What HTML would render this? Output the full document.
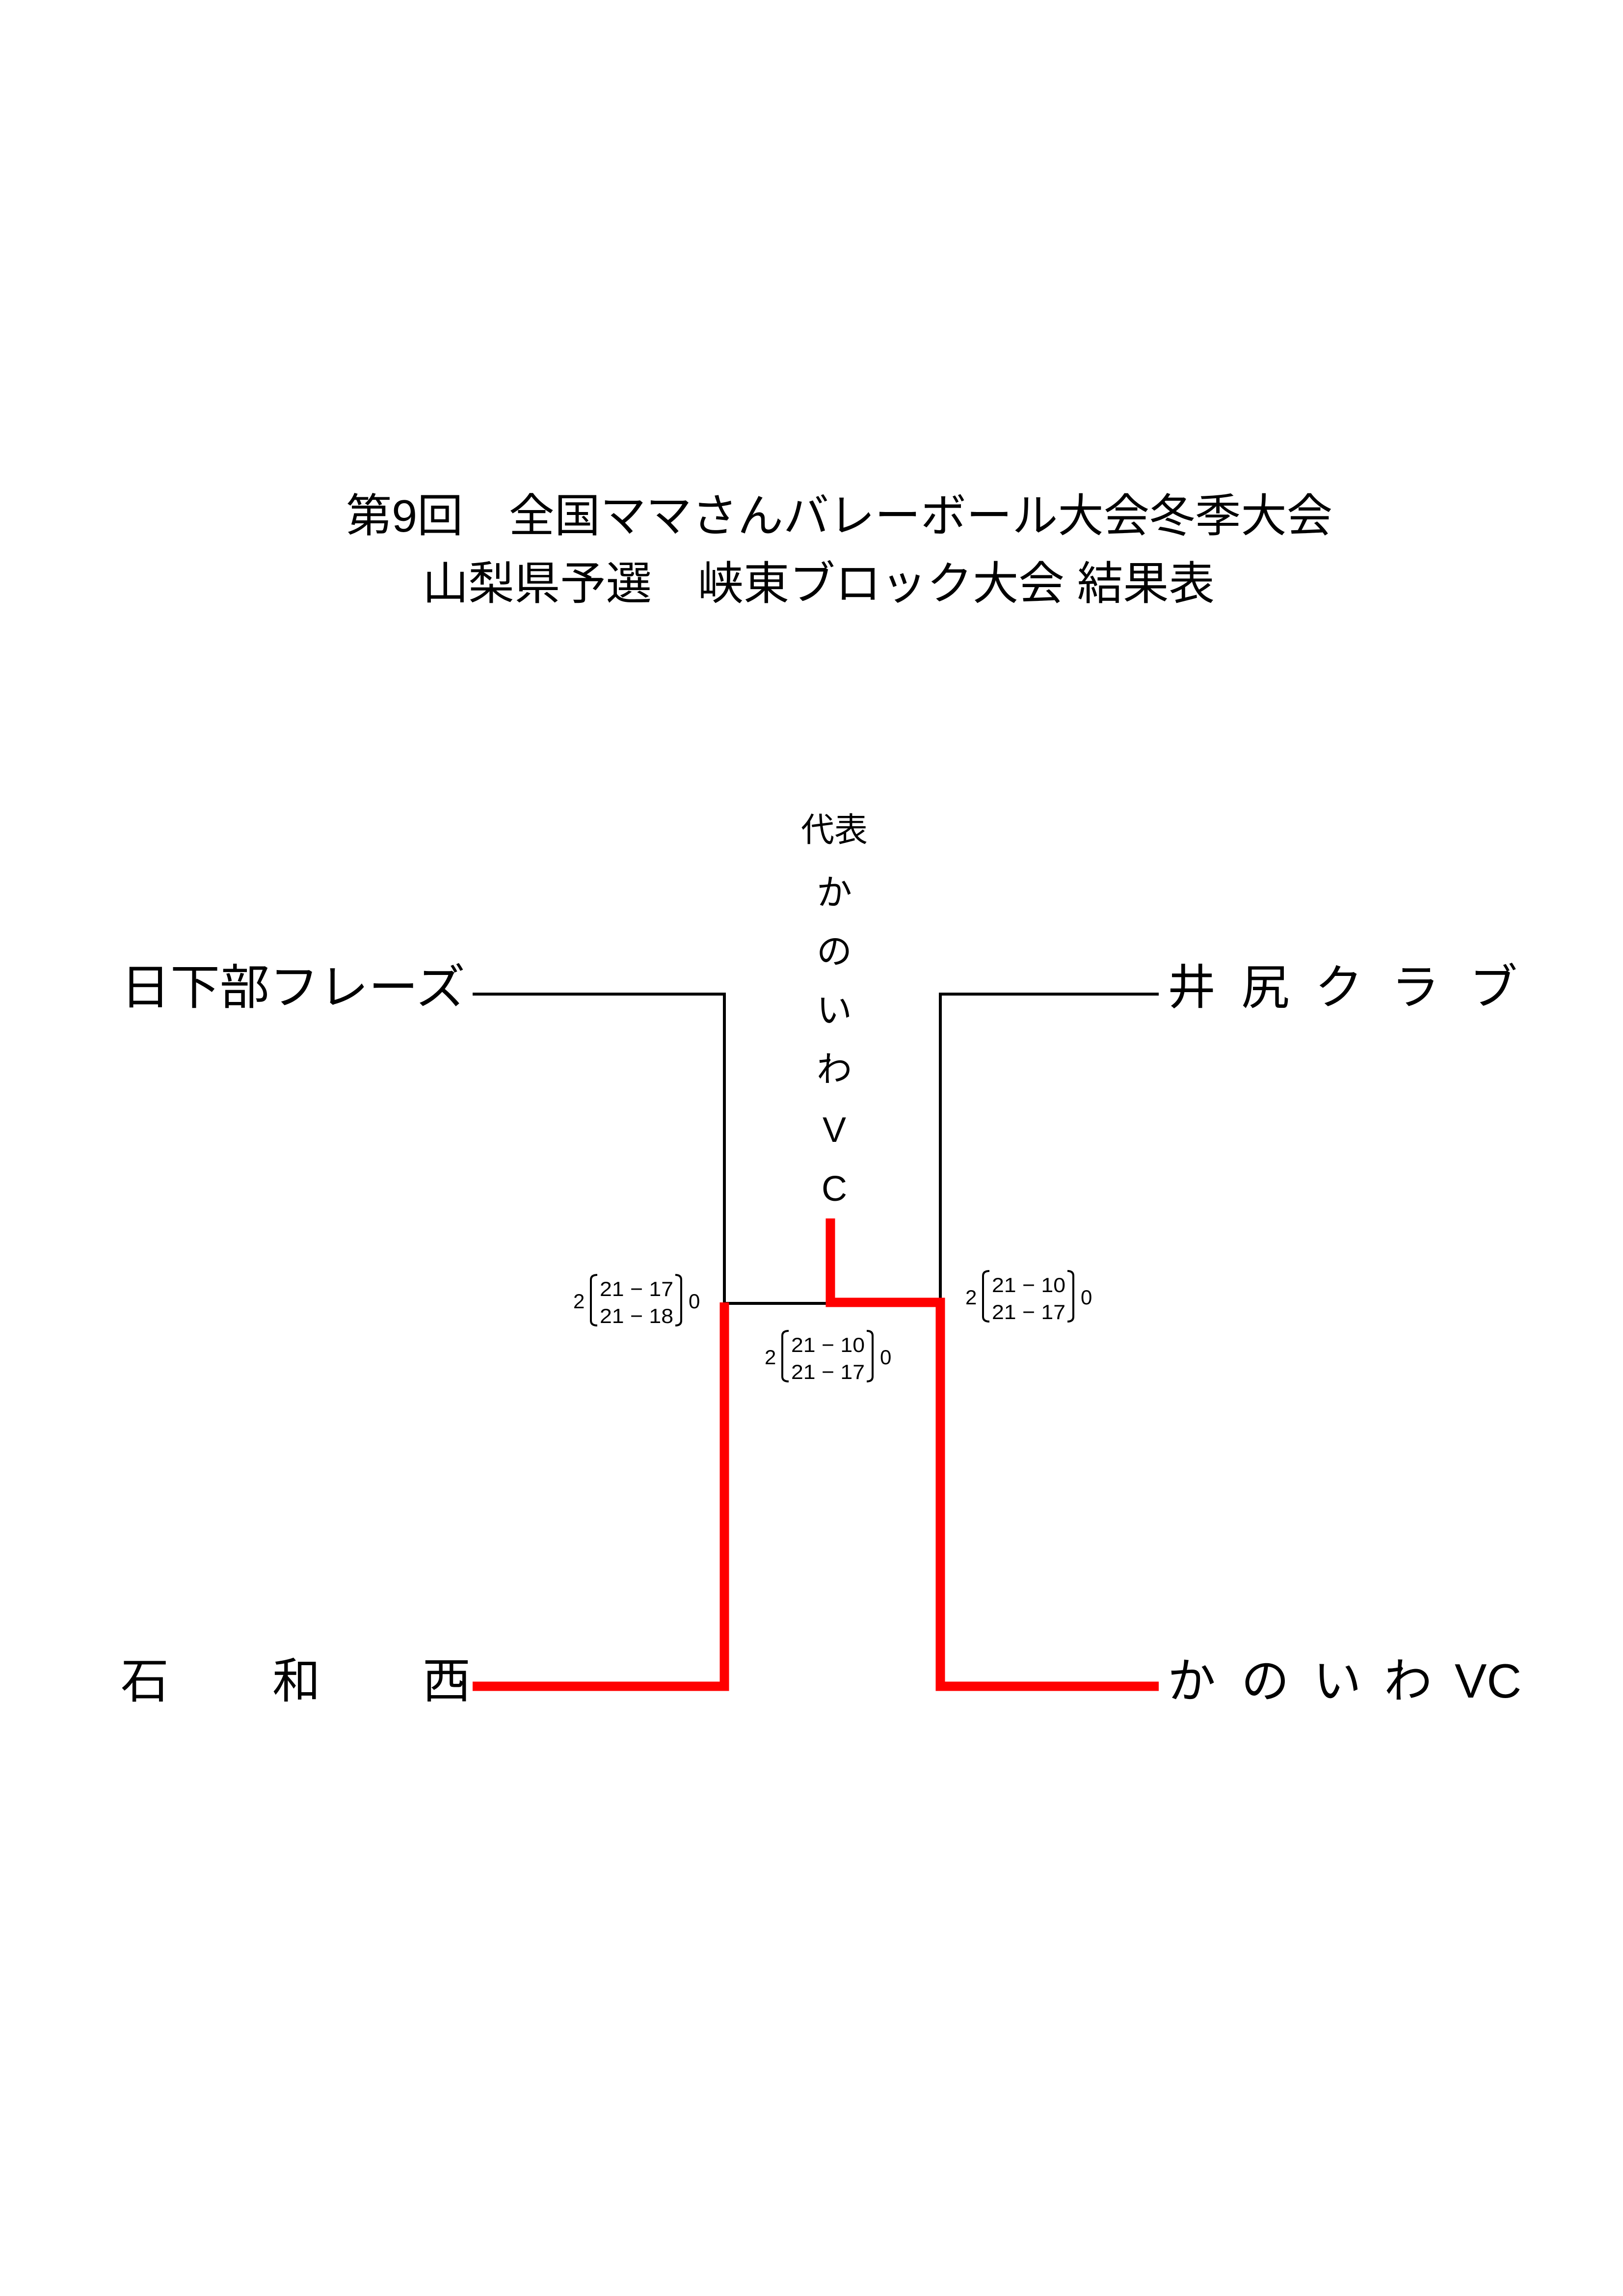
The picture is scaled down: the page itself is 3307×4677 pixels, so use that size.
<!DOCTYPE html>
<html><head><meta charset="utf-8"><style>
html,body{margin:0;padding:0;background:#fff}
svg{display:block}
text{font-family:"Liberation Sans","Noto Sans CJK JP",sans-serif;fill:#000}
</style></head><body>
<svg width="3307" height="4677" viewBox="0 0 3307 4677" xmlns="http://www.w3.org/2000/svg">
<rect width="3307" height="4677" fill="#fff"/>
<!-- Title -->
<text x="705" y="1083" font-size="93" textLength="2010" lengthAdjust="spacingAndGlyphs">第9回　全国ママさんバレーボール大会冬季大会</text>
<text x="861" y="1221" font-size="93" textLength="1614" lengthAdjust="spacingAndGlyphs">山梨県予選　峡東ブロック大会 結果表</text>

<!-- Champion vertical -->
<g font-size="72" text-anchor="middle">
<text x="1700" y="1714" font-size="68">代表</text>
<text x="1700" y="1843">か</text>
<text x="1700" y="1963">の</text>
<text x="1700" y="2083">い</text>
<text x="1700" y="2203">わ</text>
<text x="1700" y="2326">V</text>
<text x="1700" y="2446">C</text>
</g>

<!-- Team names -->
<text x="246" y="2045" font-size="98" textLength="702" lengthAdjust="spacingAndGlyphs">日下部フレーズ</text>
<g font-size="98">
<text x="2379" y="2045">井</text>
<text x="2529" y="2045">尻</text>
<text x="2679" y="2045">ク</text>
<text x="2835" y="2045">ラ</text>
<text x="2994" y="2045">ブ</text>
<text x="246" y="3458">石</text>
<text x="555" y="3458">和</text>
<text x="861" y="3458">西</text>
<text x="2379" y="3458">か</text>
<text x="2529" y="3458">の</text>
<text x="2676" y="3458">い</text>
<text x="2820" y="3458">わ</text>
<text x="2964" y="3458">VC</text>
</g>

<!-- Black lines -->
<g stroke="#000" stroke-width="6" fill="none">
<polyline points="963,2025 1476,2025 1476,2655 1692,2655"/>
<polyline points="2361,2025 1916,2025 1916,2653"/>
</g>

<!-- Red lines -->
<g stroke="#f00" stroke-width="19" fill="none" stroke-linejoin="miter">
<polyline points="963,3435 1476,3435 1476,2653"/>
<polyline points="2361,3435 1916,3435 1916,2653 1692,2653 1692,2482"/>
</g>

<!-- Score blocks -->
<defs>
<g id="br">
<path d="M49,-68 Q36,-68 36,-58 L36,25 Q36,35 49,35" stroke="#000" stroke-width="4" fill="none"/>
<path d="M208,-68 Q220,-68 220,-58 L220,25 Q220,35 208,35" stroke="#000" stroke-width="4" fill="none"/>
</g>
</defs>
<g font-size="42">
<g transform="translate(1168,2665)">
<use href="#br"/>
<text x="0" y="0">2</text>
<text x="54" y="-25" textLength="150" lengthAdjust="spacingAndGlyphs">21 − 17</text>
<text x="54" y="30" textLength="150" lengthAdjust="spacingAndGlyphs">21 − 18</text>
<text x="235" y="0">0</text>
</g>
<g transform="translate(1967,2657)">
<use href="#br"/>
<text x="0" y="0">2</text>
<text x="54" y="-25" textLength="150" lengthAdjust="spacingAndGlyphs">21 − 10</text>
<text x="54" y="30" textLength="150" lengthAdjust="spacingAndGlyphs">21 − 17</text>
<text x="235" y="0">0</text>
</g>
<g transform="translate(1558,2779)">
<use href="#br"/>
<text x="0" y="0">2</text>
<text x="54" y="-25" textLength="150" lengthAdjust="spacingAndGlyphs">21 − 10</text>
<text x="54" y="30" textLength="150" lengthAdjust="spacingAndGlyphs">21 − 17</text>
<text x="235" y="0">0</text>
</g>
</g>
</svg>
</body></html>
